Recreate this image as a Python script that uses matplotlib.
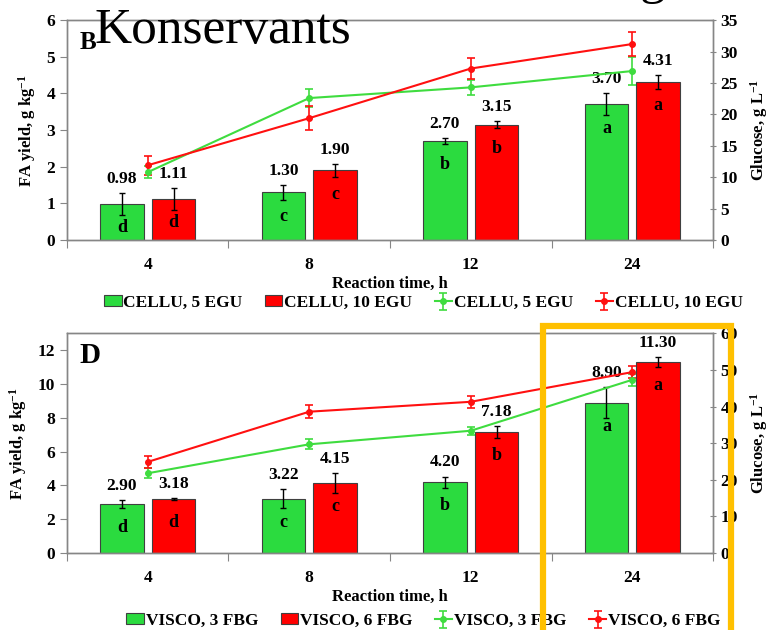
import matplotlib
matplotlib.use("Agg")
import matplotlib.pyplot as plt
from matplotlib.patches import Rectangle
import numpy as np

plt.rcParams.update({
    "font.family": ["Liberation Serif", "DejaVu Serif"], "font.weight": "bold", "font.size": 11,
    "mathtext.fontset": "custom", "mathtext.rm": "Liberation Serif:bold",
    "mathtext.it": "Liberation Serif:bold", "mathtext.default": "rm",
    "axes.edgecolor": "#868686", "axes.linewidth": 1.0,
})

times = ["4", "8", "12", "24"]

# panel B (CELLU)
b_fa_5 = [0.98, 1.30, 2.70, 3.70]
b_fa_5_err = [0.30, 0.20, 0.08, 0.30]
b_fa_10 = [1.11, 1.90, 3.15, 4.31]
b_fa_10_err = [0.30, 0.18, 0.10, 0.20]
b_let_5 = ["d", "c", "b", "a"]
b_let_10 = ["d", "c", "b", "a"]
b_glu_5 = [10.8, 22.6, 24.3, 26.9]
b_glu_5_err = [1.0, 1.5, 1.2, 2.2]
b_glu_10 = [11.9, 19.4, 27.3, 31.2]
b_glu_10_err = [1.5, 1.9, 1.6, 1.9]

# panel D (VISCO)
d_fa_3 = [2.90, 3.22, 4.20, 8.90]
d_fa_3_err = [0.22, 0.56, 0.33, 0.90]
d_fa_6 = [3.18, 4.15, 7.18, 11.30]
d_fa_6_err = [0.06, 0.57, 0.35, 0.30]
d_let_3 = ["d", "c", "b", "a"]
d_let_6 = ["d", "c", "b", "a"]
d_glu_3 = [21.8, 29.7, 33.4, 47.3]
d_glu_3_err = [1.3, 1.4, 1.1, 1.6]
d_glu_6 = [24.9, 38.6, 41.3, 49.4]
d_glu_6_err = [1.6, 1.8, 1.7, 1.6]

GREEN, RED = "#2BDB3F", "#FF0000"
LGREEN, LRED = "#3FDC3F", "#FF1010"
tag_size = {"B": 18, "D": 21}

fig = plt.figure(figsize=(7.7, 6.3), dpi=100)


def panel(rect, tag, fa1, fa1e, fa2, fa2e, l1, l2, g1, g1e, g2, g2e, ymax, ystep, gmax, gstep, names):
    ax = fig.add_axes(rect)
    x = np.arange(len(times))
    w, off = 0.27, 0.16
    for vals, errs, lets, dx, col, nm in ((fa1, fa1e, l1, -off, GREEN, names[0]),
                                          (fa2, fa2e, l2, off, RED, names[1])):
        ax.bar(x + dx, vals, w, color=col, edgecolor="#404040", lw=0.8, label=nm, zorder=2)
        ax.errorbar(x + dx, vals, yerr=errs, fmt="none", ecolor="black", elinewidth=1.0,
                    capsize=2.5, capthick=1.0, zorder=3)
        for xi, v, e, t in zip(x + dx, vals, errs, lets):
            ax.annotate(f"{v:.2f}", (xi, v + e), xytext=(0, 4.5), textcoords="offset points",
                        ha="center", va="bottom", fontsize=12.5, fontweight="bold")
            ax.annotate(t, (xi, v), xytext=(0, -17), textcoords="offset points",
                        ha="center", va="center", fontsize=13, fontweight="bold")
    ax.set_xlim(-0.5, len(times) - 0.5)
    ax.set_ylim(0, ymax)
    ax.set_yticks(np.arange(0, ymax + 0.01, ystep))
    ax.set_xticks(np.arange(-0.5, len(times), 1.0))
    ax.set_xticklabels([])
    ax.set_xticks(x, minor=True)
    ax.set_xticklabels(times, minor=True, fontsize=12.5, fontweight="bold")
    ax.tick_params(axis="x", which="major", length=6, direction="out", color="#868686")
    ax.tick_params(axis="x", which="minor", length=0, pad=12)
    ax.tick_params(axis="y", length=5, direction="out", color="#868686", labelsize=12.5)
    ax.set_xlabel("Reaction time, h", fontsize=12, fontweight="bold", labelpad=2)
    ax.set_ylabel("FA yield, g kg$^{-1}$", fontsize=12, fontweight="bold", labelpad=6)
    ax.text(0.02, 0.9, tag, transform=ax.transAxes, fontsize=tag_size[tag], fontweight="bold",
            va="center", ha="left")

    ax2 = ax.twinx()
    for vals, errs, col, nm in ((g1, g1e, LGREEN, names[2]), (g2, g2e, LRED, names[3])):
        ax2.errorbar(x, vals, yerr=errs, color=col, marker="o", ms=4, lw=1.5,
                     elinewidth=1.2, capsize=3, capthick=1.2, label=nm)
    ax2.set_ylim(0, gmax)
    ax2.set_yticks(np.arange(0, gmax + 0.01, gstep))
    ax2.tick_params(axis="y", length=5, direction="inout", color="#868686", labelsize=12.5, pad=3)
    ax2.set_ylabel("Glucose, g L$^{-1}$", fontsize=12, fontweight="bold", labelpad=7)
    for a in (ax, ax2):
        for s in a.spines.values():
            s.set_color("#868686")
    return ax, ax2


axB, axB2 = panel([0.087, 0.619, 0.839, 0.349], "B", b_fa_5, b_fa_5_err, b_fa_10, b_fa_10_err,
                  b_let_5, b_let_10, b_glu_5, b_glu_5_err, b_glu_10, b_glu_10_err,
                  6, 1, 35, 5, ["CELLU, 5 EGU", "CELLU, 10 EGU", "CELLU, 5 EGU", "CELLU, 10 EGU"])
axD, axD2 = panel([0.087, 0.122, 0.839, 0.349], "D", d_fa_3, d_fa_3_err, d_fa_6, d_fa_6_err,
                  d_let_3, d_let_6, d_glu_3, d_glu_3_err, d_glu_6, d_glu_6_err,
                  13, 2, 60, 10, ["VISCO, 3 FBG", "VISCO, 6 FBG", "VISCO, 3 FBG", "VISCO, 6 FBG"])

for a1, a2, yc in ((axB, axB2, 1 - 303 / 630), (axD, axD2, 1 - 621 / 630)):
    h1, lb1 = a1.get_legend_handles_labels()
    h2, lb2 = a2.get_legend_handles_labels()
    fig.legend(h1 + h2, lb1 + lb2, ncol=4, loc="center", bbox_to_anchor=(0.55, yc),
               frameon=False, handlelength=1.0, handleheight=0.6, handletextpad=0.1,
               columnspacing=1.3, prop={"family": "Liberation Serif", "weight": "bold", "size": 12.5})

# overlay text and highlight box
fig.text(95 / 770, 1 - 43 / 630, "Konservants", fontsize=37, fontweight="normal",
         ha="left", va="baseline")
fig.text(653 / 770, 1 + 7 / 630, "g", fontsize=37, fontweight="normal", ha="center", va="baseline")
fig.patches.append(Rectangle((542.5 / 770, -0.05), (730.5 - 542.5) / 770, 1 - 326 / 630 + 0.05,
                             transform=fig.transFigure, fill=False, edgecolor="#FFC000",
                             lw=4.5, zorder=10))

fig.savefig("out.png", dpi=100)
